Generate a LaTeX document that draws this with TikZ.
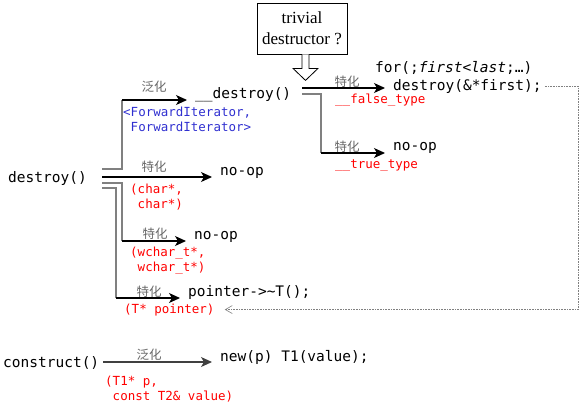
\documentclass[tikz,border=0pt]{standalone}
\usepackage{fontspec}
\setmainfont{Liberation Serif}
\setmonofont{DejaVu Sans Mono}
\newfontfamily\cjk{Noto Sans CJK SC}
\definecolor{myred}{HTML}{FF0000}
\definecolor{myblue}{HTML}{3030D0}
\definecolor{mygray}{HTML}{808080}
\usetikzlibrary{arrows.meta, calc, positioning}
\tikzset{
	codetext/.style={font=\fontsize{14.5}{17}\selectfont\ttfamily, inner sep=0pt, anchor=base west}
}
\tikzset{
	redtext/.style={font=\fontsize{12.5}{15}\selectfont\ttfamily, text=myred, inner sep=0pt, anchor=base west, align=left}
}
\tikzset{
	bluetext/.style={redtext, text=myblue}
}
\tikzset{
	graytext/.style={font=\fontsize{12.5}{13}\selectfont\cjk, text=mygray!80!black, inner sep=0pt}
}
\tikzset{
	stubline/.style={draw=mygray, line width=1.1pt},
	arrowline/.style={draw=black, line width=1.1pt, -{Stealth[length=11pt,width=10pt,inset=3pt]}, shorten >=8pt},
	dotline/.style={draw=mygray, line width=0.6pt, densely dotted, -{Straight Barb[length=7pt,width=8pt]}, shorten >=10pt, shorten <=3pt}
}

\begin{document}
\begin{tikzpicture}[x=1pt,y=-1pt]
\useasboundingbox (0,0) rectangle (583,408);

\coordinate (sa) at (102,169);
\coordinate (sb) at (102,177);
\coordinate (sc) at (102,183);
\coordinate (sd) at (102,188);
\coordinate (ba) at (122,100);
\coordinate (bc) at (122,241);
\coordinate (bd) at (116,298);
\coordinate (ta) at (302,88);
\coordinate (tb) at (302,94);
\coordinate (tc) at (321,153);
\coordinate (ua) at (103,362);
\coordinate (rc) at (578,0);

\node[draw, line width=0.8pt, minimum width=90pt, minimum height=51pt, align=center, font=\fontsize{17}{21}\selectfont] (triv) at (302,28.5) {trivial\\destructor ?};
\draw[line width=0.8pt, fill=white, line join=miter] (triv.south) -- ++(0,14) -- ++(-9,0) -- ++(12.5,12) -- ++(12.5,-12) -- ++(-9,0) -- ++(0,-14);

\node[codetext] (destroy) at (8,182) {destroy()};
\node[codetext] (dstr) at (195,98) {\_\_destroy()};
\node[codetext] (forl) at (375,72) {for(;\textit{first}<\textit{last};…)};
\node[codetext] (ddf) at (393,90) {destroy(\&*first);};
\node[codetext] (nop2) at (393,150) {no-op};
\node[codetext] (nop1) at (220,175) {no-op};
\node[codetext] (nop3) at (194,239) {no-op};
\node[codetext] (ptr) at (188,296) {pointer->\textasciitilde T();};
\node[codetext] (construct) at (3,367) {construct()};
\node[codetext] (newp) at (220,361) {new(p) T1(value);};

% two-line labels sit on the baseline of their last line
\node[bluetext] (fwd) at (123,131) {<ForwardIterator,\\\hphantom{<}ForwardIterator>};
\node[redtext] (chr) at (130,208) {(char*,\\\hphantom{(}char*)};
\node[redtext] (wchr) at (130,271) {(wchar\_t*,\\\hphantom{(}wchar\_t*)};
\node[redtext] (ptrl) at (124,313) {(T* pointer)};
\node[redtext] (ftype) at (335,103) {\_\_false\_type};
\node[redtext] (ttype) at (335,168) {\_\_true\_type};
\node[redtext] (cargs) at (105,400) {(T1* p,\\\hphantom{(}const T2\& value)};

\node[graytext] (ga) at (154,87) {泛化};
\node[graytext] (gb) at (154,167) {特化};
\node[graytext] (gc) at (155,234) {特化};
\node[graytext] (gd) at (149,292) {特化};
\node[graytext] (ge) at (149,355) {泛化};
\node[graytext] (gf) at (347,82) {特化};
\node[graytext] (gg) at (347,147) {特化};

\draw[stubline] (sa) -| (ba);
\draw[arrowline] (ba) -- (ba -| dstr.west);
\draw[arrowline] (sb) -- (sb -| nop1.west);
\draw[stubline] (sc) -| (bc);
\draw[arrowline] (bc) -- (bc -| nop3.west);
\draw[stubline] (sd) -| (bd);
\draw[arrowline] (bd) -- (bd -| ptr.west);

\draw[arrowline] (ta) -- (ta -| ddf.west);
\draw[stubline] (tb) -| (tc);
\draw[arrowline] (tc) -- (tc -| nop2.west);

\draw[arrowline, draw=black!75] (ua) -- (ua -| newp.west);

\draw[dotline] (ddf.east) -- (ddf.east -| rc) -- (rc |- ptrl.east) -- (ptrl.east);

\end{tikzpicture}
\end{document}
